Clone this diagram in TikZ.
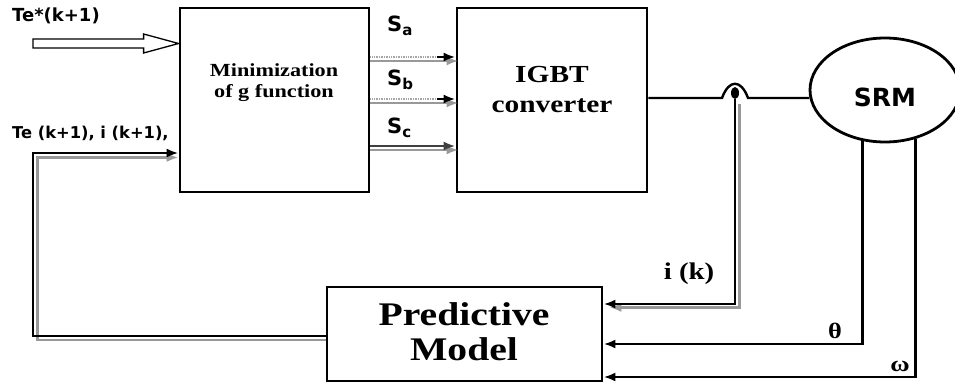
\documentclass[tikz,border=0pt]{standalone}
\usepackage{fontspec}
\usetikzlibrary{arrows.meta,shapes.geometric,calc}
\newfontfamily\sansb{DejaVu Sans}
\newfontfamily\serifw[FakeStretch=1.2]{Liberation Serif}
\begin{document}
\begin{tikzpicture}[x=1pt,y=-1pt,
  blk/.style={draw, line width=2.8pt, inner sep=0pt},
  wire/.style={line width=2.4pt, black},
  shade/.style={line width=2.4pt, black!40},
  tip/.style={-{Latex[length=12pt,width=9pt]}},
  gtip/.style={-{Latex[length=12pt,width=9pt]}},
  dots/.style={line width=2pt, black!35, dash pattern=on 1pt off 0.7pt},
  lbls/.style={font=\sansb\bfseries\fontsize{17}{19}\selectfont, inner sep=0pt},
  lblS/.style={font=\sansb\bfseries\fontsize{21}{23}\selectfont, inner sep=0pt, anchor=base west},
  lblr/.style={inner sep=0pt, anchor=base},
  hollow/.style={draw, line width=1.3pt, fill=white}]
\path[use as bounding box] (0,0) rectangle (955,385);
\clip (0,0) rectangle (955,385);

% blocks
\node[blk, minimum width=189pt, minimum height=184pt] (min) at (274.5,100) {};
\node[blk, minimum width=190pt, minimum height=184pt] (igbt) at (552,100) {};
\node[blk, minimum width=275pt, minimum height=94pt] (pm) at (464.5,334) {};
\node[blk, ellipse, fill=white, minimum width=150pt, minimum height=104pt] (srm) at (885,90) {};

% block texts
\node[lblr, font=\serifw\bfseries\fontsize{18.5}{20}\selectfont] (minA) at (274,77) {Minimization};
\node[lblr, font=\serifw\bfseries\fontsize{18.5}{20}\selectfont] (minB) at (274,98) {of g function};
\node[lblr, font=\serifw\bfseries\fontsize{24.5}{26}\selectfont] (igA) at (552,83) {IGBT};
\node[lblr, font=\serifw\bfseries\fontsize{24.5}{26}\selectfont] (igB) at (552,113) {converter};
\node[lblr, font=\serifw\bfseries\fontsize{33}{35}\selectfont] (pmA) at (464,325) {Predictive};
\node[lblr, font=\serifw\bfseries\fontsize{33}{35}\selectfont] (pmB) at (464,360) {Model};
\node[lblr, font=\sansb\bfseries\fontsize{25}{27}\selectfont] (srmt) at (885,107) {SRM};

% outside labels
\node[lbls, anchor=base west, font=\sansb\bfseries\fontsize{18}{20}\selectfont] (teref) at (12,22) {Te*(k+1)};
\node[lbls, anchor=base west, font=\sansb\bfseries\fontsize{16.3}{18}\selectfont] (tefb) at (12,139) {Te (k+1), i (k+1),};
\node[lblS] (sa) at (387,32) {S\raisebox{-4pt}{\fontsize{15}{15}\selectfont a}};
\node[lblS] (sb) at (387,86) {S\raisebox{-4pt}{\fontsize{15}{15}\selectfont b}};
\node[lblS] (sc) at (387,133) {S\raisebox{-4pt}{\fontsize{15}{15}\selectfont c}};
\node[lblr, font=\serifw\bfseries\fontsize{24}{26}\selectfont] (ikl) at (689,279) {i (k)};
\node[lblr, font=\serifw\bfseries\fontsize{22}{24}\selectfont] (thl) at (835,338) {θ};
\node[lblr, font=\serifw\bfseries\fontsize{22}{24}\selectfont] (oml) at (900,371) {ω};

% reference torque: hollow arrow
\coordinate (teS) at (33,43.5);
\coordinate (teE) at (min.west |- teS);
\draw[hollow] ($(teS)+(0,-4.5)$) -- ($(teE)+(-35,-4.5)$) -- ($(teE)+(-35,-9.5)$)
  -- (teE) -- ($(teE)+(-35,9.5)$) -- ($(teE)+(-35,4.5)$) -- ($(teS)+(0,4.5)$) -- cycle;

% switching signals
\coordinate (ya) at (0,57);  \coordinate (yb) at (0,99);  \coordinate (yc) at (0,146);
\coordinate (ya2) at (0,61); \coordinate (yb2) at (0,103); \coordinate (yc2) at (0,150);
\coordinate (xm) at (437,0);
\foreach \s in {ya2, yb2, yc2}{
  \draw[shade, gtip] (min.east |- \s) -- ($(igbt.west |- \s)+(3,0)$);
}
\draw[dots] (min.east |- ya) -- (xm |- ya);
\draw[wire, tip] (xm |- ya) -- (igbt.west |- ya);
\draw[dots] (min.east |- yb) -- (xm |- yb);
\draw[wire, tip] (xm |- yb) -- (igbt.west |- yb);
\draw[line width=2.4pt, black!75, tip] (min.east |- yc) -- (igbt.west |- yc);

% converter to motor, with hop
\coordinate (y98) at (0,98);
\coordinate (hopL) at (722,98);
\coordinate (hopR) at (748,98);
\draw[wire] (igbt.east |- y98) -- (hopL) .. controls (729,79) and (741,79) .. (hopR) -- (srm.186 |- hopR);
\node[fill, ellipse, minimum width=8pt, minimum height=12pt, inner sep=0pt] (dot) at (735,93) {};

% current feedback i(k)
\coordinate (yik) at (0,304);
\coordinate (yik2) at (0,307.5);
\coordinate (ikg) at (739.5,104);
\draw[shade, gtip] (ikg) -- (ikg |- yik2) -- ($(pm.east |- yik2)+(6,0)$);
\draw[wire, tip] (dot.south) -- (dot.south |- yik) -- (pm.east |- yik);

% theta and omega
\coordinate (yth) at (0,344);
\coordinate (yom) at (0,377);
\draw[wire, tip] (srm.246) -- (srm.246 |- yth) -- (pm.east |- yth);
\draw[wire, tip] (srm.302) -- (srm.302 |- yom) -- (pm.east |- yom);

% predicted values back to minimization
\coordinate (fbk) at (33,153);
\coordinate (fbk2) at (37.5,157.5);
\coordinate (yfb) at (0,336);
\coordinate (yfb2) at (0,340);
\draw[shade, gtip] (pm.west |- yfb2) -- (fbk2 |- yfb2) -- (fbk2) -- (min.west |- fbk2);
\draw[wire, tip] (pm.west |- yfb) -- (fbk |- yfb) -- (fbk) -- (min.west |- fbk);
\end{tikzpicture}
\end{document}
